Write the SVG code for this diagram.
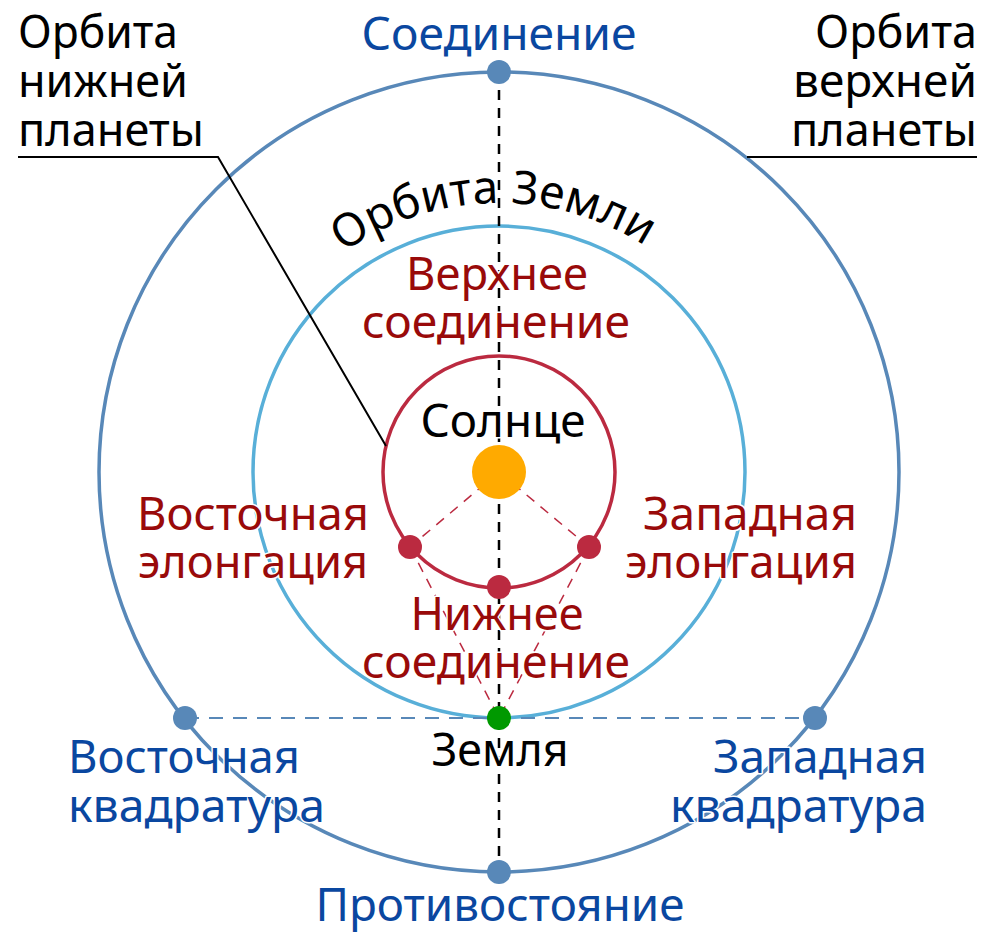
<svg xmlns="http://www.w3.org/2000/svg" width="1000" height="950" viewBox="0 0 1000 950">
<style>
.t{font-family:"Noto Sans","Open Sans","DejaVu Sans",sans-serif;font-size:45px;stroke:#fff;stroke-width:3;stroke-linejoin:round;paint-order:stroke}
.k{fill:#000}
.r{fill:#990a0a}
.b{fill:#0a47a0}
.mid{text-anchor:middle}
.end{text-anchor:end}
.orb{fill:none;stroke-width:3.5}
.bp{fill:#5888b8}
.rp{fill:#bb2a40}
</style>
<defs>
<path id="arcEarth" d="M 230 472 A 269 269 0 0 1 768 472"/>
</defs>
<g id="orbits">
<circle id="outer-orbit" cx="499" cy="472" r="400" class="orb" stroke="#5888b8"/>
<circle id="earth-orbit" cx="499" cy="472" r="246" class="orb" stroke="#58afd8"/>
<circle id="inner-orbit" cx="499" cy="472" r="116" class="orb" stroke="#bb2a40"/>
</g>
<g id="connectors">
<line x1="499" y1="72" x2="499" y2="872" stroke="#000" stroke-width="2.5" stroke-dasharray="10 8"/>
<line x1="185" y1="718" x2="815" y2="718" stroke="#5888b8" stroke-width="2" stroke-dasharray="14 10"/>
<g stroke="#bb2a40" stroke-width="1.5" stroke-dasharray="10 8" fill="none">
<line x1="499" y1="472" x2="410" y2="547"/>
<line x1="499" y1="472" x2="589" y2="547"/>
<line x1="410" y1="547" x2="499" y2="718"/>
<line x1="589" y1="547" x2="499" y2="718"/>
</g>
<polyline points="18,157 218,157 386,446" fill="none" stroke="#000" stroke-width="2"/>
<line x1="747" y1="157" x2="977" y2="157" stroke="#000" stroke-width="2"/>
</g>
<g id="label-inner-orbit">
<text class="t k"><tspan x="18" y="48" textLength="160" lengthAdjust="spacingAndGlyphs">Орбита</tspan><tspan x="18" y="97" textLength="170" lengthAdjust="spacingAndGlyphs">нижней</tspan><tspan x="18" y="146" textLength="186" lengthAdjust="spacingAndGlyphs">планеты</tspan></text>
</g>
<g id="label-outer-orbit">
<text class="t k end"><tspan x="977" y="48" textLength="162" lengthAdjust="spacingAndGlyphs">Орбита</tspan><tspan x="977" y="97" textLength="184" lengthAdjust="spacingAndGlyphs">верхней</tspan><tspan x="977" y="146" textLength="186" lengthAdjust="spacingAndGlyphs">планеты</tspan></text>
</g>
<g id="label-earth-orbit">
<text class="t k mid" style="font-size:46px"><textPath href="#arcEarth" startOffset="49.3%">Орбита Земли</textPath></text>
</g>
<g id="conjunction">
<circle cx="499" cy="72" r="12" class="bp"/>
<text class="t b mid" x="499" y="50" textLength="275" lengthAdjust="spacingAndGlyphs">Соединение</text>
</g>
<g id="opposition">
<circle cx="499" cy="872" r="12" class="bp"/>
<text class="t b mid" x="500" y="921" textLength="369" lengthAdjust="spacingAndGlyphs">Противостояние</text>
</g>
<g id="east-quadrature">
<circle cx="185" cy="718" r="12" class="bp"/>
<text class="t b"><tspan x="68" y="773" textLength="232" lengthAdjust="spacingAndGlyphs">Восточная</tspan><tspan x="68" y="822" textLength="257" lengthAdjust="spacingAndGlyphs">квадратура</tspan></text>
</g>
<g id="west-quadrature">
<circle cx="815" cy="718" r="12" class="bp"/>
<text class="t b end"><tspan x="927" y="773" textLength="214" lengthAdjust="spacingAndGlyphs">Западная</tspan><tspan x="927" y="822" textLength="257" lengthAdjust="spacingAndGlyphs">квадратура</tspan></text>
</g>
<g id="sun">
<circle cx="499" cy="472" r="27" fill="#ffaa00"/>
<text class="t k mid" x="503" y="437" textLength="165" lengthAdjust="spacingAndGlyphs">Солнце</text>
</g>
<g id="superior-conjunction">
<text class="t r mid"><tspan x="497" y="290" textLength="182" lengthAdjust="spacingAndGlyphs">Верхнее</tspan><tspan x="496" y="338" textLength="268" lengthAdjust="spacingAndGlyphs">соединение</tspan></text>
</g>
<g id="east-elongation">
<circle cx="410" cy="547" r="12" class="rp"/>
<text class="t r end"><tspan x="369" y="530" textLength="232" lengthAdjust="spacingAndGlyphs">Восточная</tspan><tspan x="368" y="578" textLength="230" lengthAdjust="spacingAndGlyphs">элонгация</tspan></text>
</g>
<g id="west-elongation">
<circle cx="589" cy="547" r="12" class="rp"/>
<text class="t r end"><tspan x="857" y="530" textLength="214" lengthAdjust="spacingAndGlyphs">Западная</tspan><tspan x="857" y="578" textLength="232" lengthAdjust="spacingAndGlyphs">элонгация</tspan></text>
</g>
<g id="inferior-conjunction">
<circle cx="499" cy="587" r="12" class="rp"/>
<text class="t r mid"><tspan x="497" y="630" textLength="173" lengthAdjust="spacingAndGlyphs">Нижнее</tspan><tspan x="496" y="678" textLength="268" lengthAdjust="spacingAndGlyphs">соединение</tspan></text>
</g>
<g id="earth">
<circle cx="499" cy="718" r="12" fill="#009900"/>
<text class="t k mid" x="500" y="766" textLength="137" lengthAdjust="spacingAndGlyphs">Земля</text>
</g>
</svg>
